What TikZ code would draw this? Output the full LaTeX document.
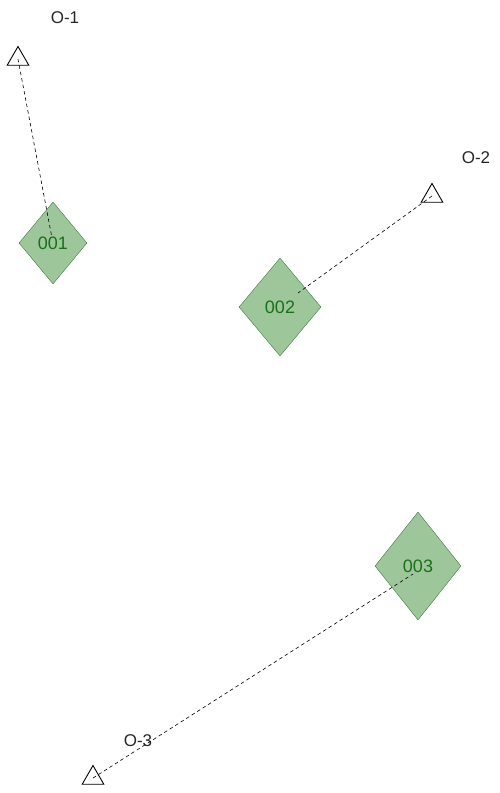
\documentclass[tikz,border=0pt]{standalone}
\usepackage{fontspec}
\setmainfont{Liberation Sans}
\usetikzlibrary{shapes.geometric}

\definecolor{boxfill}{HTML}{9DC79A}
\definecolor{boxline}{HTML}{3F7A3F}
\definecolor{boxtext}{HTML}{1A701A}

\tikzset{
  site/.style={diamond,draw=boxline,fill=boxfill,text=boxtext,inner sep=0pt,
    font=\fontsize{18}{20}\selectfont},
  obs/.style={regular polygon,regular polygon sides=3,draw,line width=0.9pt,inner sep=0pt,minimum size=25pt},
  obslabel/.style={text=black!85,font=\fontsize{17}{20}\selectfont},
  link/.style={dashed,dash pattern=on 3.5pt off 3pt,line width=0.6pt}
}

\begin{document}
\begin{tikzpicture}[x=1pt,y=-1pt]
\useasboundingbox (0,0) rectangle (500,793);

% sites
\foreach \n/\x/\y/\w/\h in {001/53/243/68/82,002/280/307/82/98,003/418/566/86/108}
\node[site,minimum width=\w pt,minimum height=\h pt] (d\n) at (\x,\y) {\n};

% observers
\foreach \n/\x/\y in {1/18/59,2/432/196,3/93/778}
\node[obs] (o\n) at (\x,\y) {};

\node[obslabel] (l1) at (65,18) {O-1};
\node[obslabel] (l2) at (476,158) {O-2};
\node[obslabel] (l3) at (138,741) {O-3};

\coordinate (p1) at (52,238);
\coordinate (p2) at (298,293);
\coordinate (p3) at (413,574);

\foreach \n in {1,2,3}
\draw[link] (o\n.center) -- (p\n);
\end{tikzpicture}
\end{document}
